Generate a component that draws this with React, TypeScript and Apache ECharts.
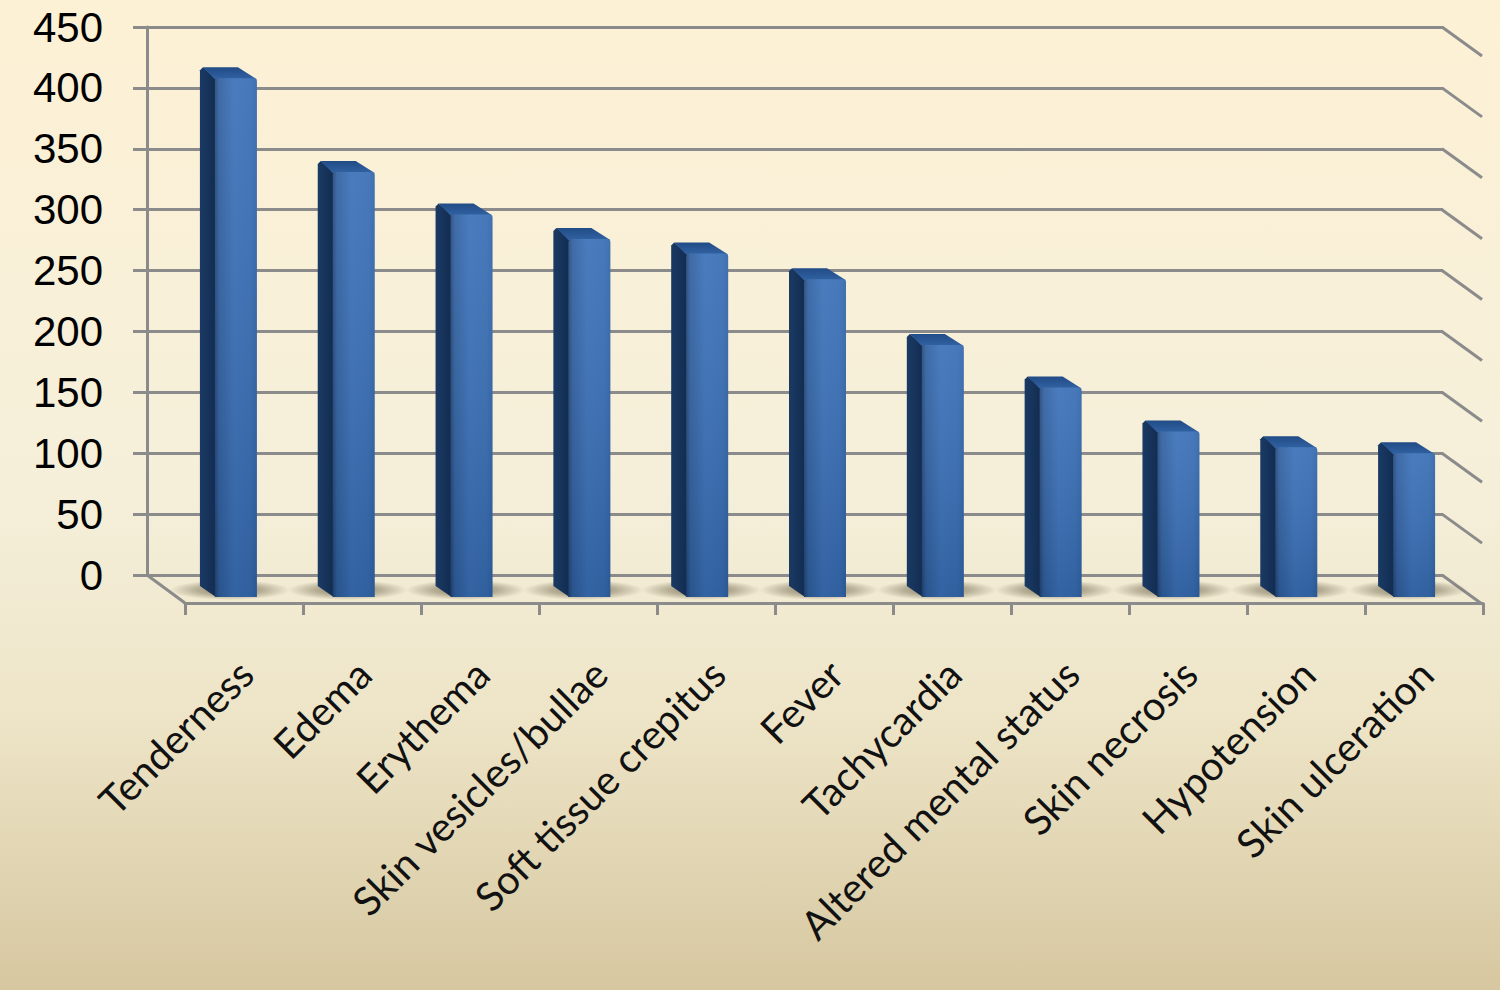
import React, { useEffect, useRef } from "react";
import * as echarts from "echarts";

const categories = [
  "Tenderness",
  "Edema",
  "Erythema",
  "Skin vesicles/bullae",
  "Soft tissue crepitus",
  "Fever",
  "Tachycardia",
  "Altered mental status",
  "Skin necrosis",
  "Hypotension",
  "Skin ulceration",
];
const patientCounts = [426, 349, 314, 294, 282, 261, 207, 172, 136, 123, 118];
const yTicks = [0, 50, 100, 150, 200, 250, 300, 350, 400, 450];

// Oblique projection offsets (px) used for the pseudo-3D wall, floor and columns
const WALL_DX = 39;
const WALL_DY = 29;
const FRONT_DX = 30;
const FRONT_DY = 22;
const BACK_DX = 15;
const BACK_DY = 11;
const HALF_W = 21;

export default function App() {
  const ref = useRef<HTMLDivElement>(null);

  useEffect(() => {
    const chart = echarts.init(ref.current!, null, { renderer: "svg" });
    const grey = "#8b8b8b";

    const frontFill = new echarts.graphic.LinearGradient(0, 0, 1, 0, [
      { offset: 0, color: "#224678" },
      { offset: 0.1, color: "#2f5f9f" },
      { offset: 0.45, color: "#3a70b8" },
      { offset: 0.85, color: "#376db4" },
      { offset: 1, color: "#3064a8" },
    ]);
    const frontShade = new echarts.graphic.LinearGradient(0, 0, 0, 1, [
      { offset: 0, color: "rgba(255,255,255,0.08)" },
      { offset: 1, color: "rgba(0,0,0,0.12)" },
    ]);
    const sideFill = new echarts.graphic.LinearGradient(0, 0, 1, 0, [
      { offset: 0, color: "#1a3a64" },
      { offset: 1, color: "#132c50" },
    ]);
    const topFill = new echarts.graphic.LinearGradient(0, 0, 0, 1, [
      { offset: 0, color: "#214c86" },
      { offset: 1, color: "#3262a3" },
    ]);
    const floorShadow = new echarts.graphic.RadialGradient(0.5, 0.5, 0.5, [
      { offset: 0, color: "rgba(95,85,60,0.75)" },
      { offset: 0.55, color: "rgba(95,85,60,0.4)" },
      { offset: 1, color: "rgba(95,85,60,0)" },
    ]);

    const option: any = {
      animation: false,
      backgroundColor: new echarts.graphic.LinearGradient(0, 0, 0, 1, [
        { offset: 0, color: "#fdf1d5" },
        { offset: 0.5, color: "#f5efda" },
        { offset: 0.72, color: "#eee5c8" },
        { offset: 1, color: "#d6c7a0" },
      ]),
      grid: [
        // back wall
        { left: 147, right: 57, top: 27, bottom: 415 },
        // front edge of the floor
        { left: 185, right: 17, top: 56, bottom: 387 },
        // category labels
        { left: 187, right: 15, top: 56, bottom: 387 },
      ],
      xAxis: [
        {
          gridIndex: 0,
          type: "category",
          data: categories,
          axisLine: { show: false },
          axisTick: { show: false },
          axisLabel: { show: false },
        },
        {
          gridIndex: 1,
          type: "category",
          data: categories,
          axisLine: { show: true, lineStyle: { color: grey, width: 3 } },
          axisTick: { show: true, length: 12, interval: 0, lineStyle: { color: grey, width: 3 } },
          axisLabel: { show: false },
        },
        {
          gridIndex: 2,
          type: "category",
          data: categories,
          axisLine: { show: false },
          axisTick: { show: false },
          axisLabel: {
            show: true,
            interval: 0,
            rotate: 45,
            margin: 64,
            fontSize: 40,
            fontFamily: "Lato",
            color: "#111",
          },
        },
      ],
      yAxis: [
        {
          gridIndex: 0,
          type: "value",
          min: 0,
          max: 450,
          interval: 50,
          axisLine: { show: true, lineStyle: { color: grey, width: 3 } },
          axisTick: { show: true, length: 14, lineStyle: { color: grey, width: 3 } },
          splitLine: { show: true, lineStyle: { color: grey, width: 3 } },
          axisLabel: {
            margin: 44,
            fontSize: 42,
            fontFamily: "Liberation Sans",
            color: "#000",
          },
        },
        { gridIndex: 1, type: "value", min: 0, max: 450, show: false },
        { gridIndex: 2, type: "value", min: 0, max: 450, show: false },
      ],
      series: [
        {
          // side-wall edges continuing each gridline, and the left floor edge
          type: "custom",
          xAxisIndex: 0,
          yAxisIndex: 0,
          data: yTicks.map((t) => [0, t]),
          silent: true,
          z: 1,
          renderItem: (params: any, api: any) => {
            const cs = params.coordSys;
            const y = api.coord([0, api.value(1)])[1];
            const right = cs.x + cs.width;
            const children: any[] = [
              {
                type: "line",
                shape: { x1: right - 1, y1: y, x2: right + WALL_DX, y2: y + WALL_DY },
                style: { stroke: grey, lineWidth: 3 },
              },
            ];
            if (api.value(1) === 0) {
              children.push({
                type: "line",
                shape: { x1: cs.x, y1: y, x2: cs.x + WALL_DX - 1, y2: y + WALL_DY - 1 },
                style: { stroke: grey, lineWidth: 3 },
              });
            }
            return { type: "group", children };
          },
        },
        {
          // 3D-looking columns
          type: "custom",
          xAxisIndex: 0,
          yAxisIndex: 0,
          data: patientCounts.map((v, i) => [i, v]),
          z: 3,
          renderItem: (params: any, api: any) => {
            const i = api.value(0);
            const v = api.value(1);
            const top = api.coord([i, v]);
            const base = api.coord([i, 0]);
            const cx = top[0];
            const yt = top[1];
            const yb = base[1];
            const fl = cx + FRONT_DX - HALF_W;
            const fr = cx + FRONT_DX + HALF_W;
            const bl = cx + BACK_DX - HALF_W;
            const br = cx + BACK_DX + HALF_W;
            return {
              type: "group",
              children: [
                {
                  type: "ellipse",
                  shape: { cx: cx + 24, cy: yb + 15, rx: 60, ry: 10 },
                  style: { fill: floorShadow },
                },
                {
                  type: "polygon",
                  shape: {
                    points: [
                      [bl, yt + BACK_DY + 3],
                      [bl + 3, yt + BACK_DY],
                      [fl + 1, yt + FRONT_DY],
                      [fl + 1, yb + FRONT_DY],
                      [bl, yb + BACK_DY],
                    ],
                  },
                  style: { fill: sideFill },
                },
                {
                  type: "polygon",
                  shape: {
                    points: [
                      [bl + 3, yt + BACK_DY],
                      [br - 4, yt + BACK_DY],
                      [fr, yt + FRONT_DY + 1],
                      [fl, yt + FRONT_DY + 1],
                    ],
                  },
                  style: { fill: topFill },
                },
                {
                  type: "rect",
                  shape: { x: fl, y: yt + FRONT_DY, width: HALF_W * 2, height: yb - yt, r: [3, 3, 0, 0] },
                  style: { fill: frontFill },
                },
                {
                  type: "rect",
                  shape: { x: fl, y: yt + FRONT_DY, width: HALF_W * 2, height: yb - yt, r: [3, 3, 0, 0] },
                  style: { fill: frontShade },
                },
              ],
            };
          },
        },
      ],
    };

    chart.setOption(option);
    return () => chart.dispose();
  }, []);

  return (
    <div
      ref={ref}
      style={{ position: "fixed", left: 0, top: 0, width: 1500, height: 990 }}
    />
  );
}
